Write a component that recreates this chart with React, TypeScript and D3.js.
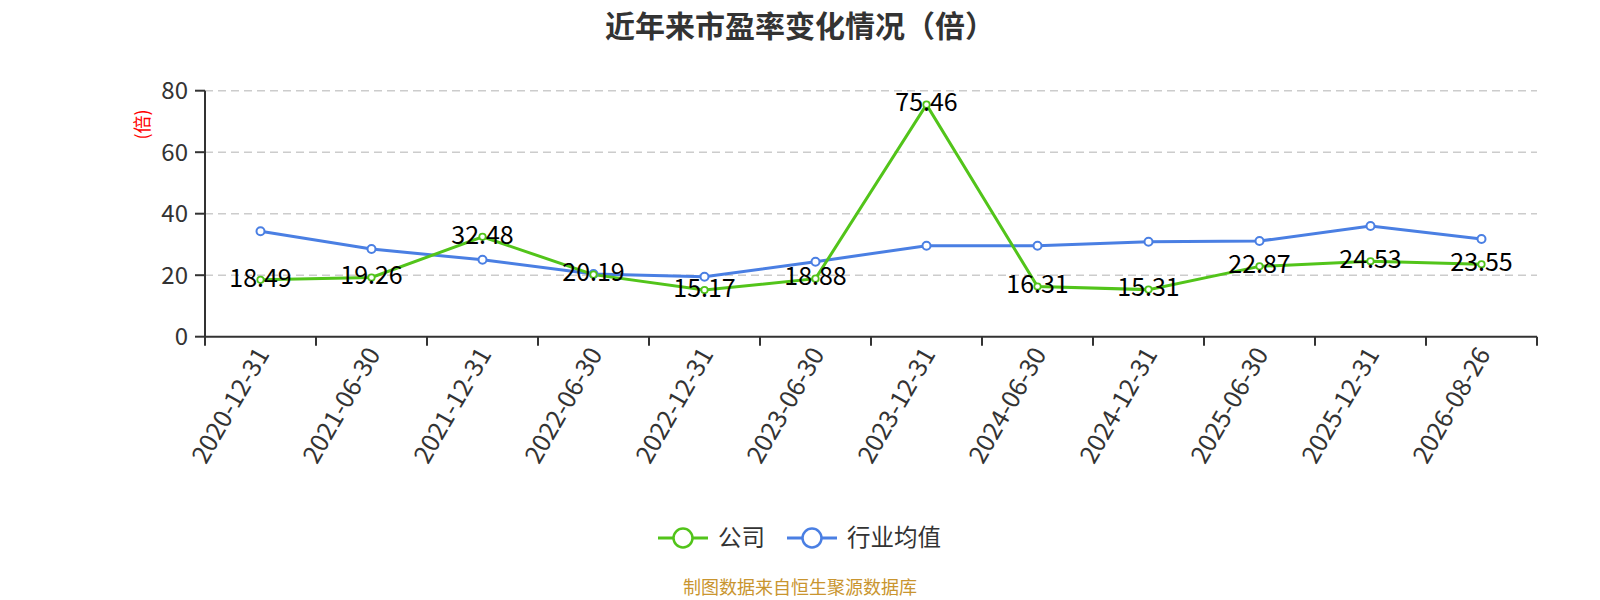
import * as d3 from 'd3';

const categories = [
  '2020-12-31', '2021-06-30', '2021-12-31', '2022-06-30', '2022-12-31', '2023-06-30',
  '2023-12-31', '2024-06-30', '2024-12-31', '2025-06-30', '2025-12-31', '2026-08-26',
];
const companyPE = [18.49, 19.26, 32.48, 20.19, 15.17, 18.88, 75.46, 16.31, 15.31, 22.87, 24.53, 23.55];
const industryPE = [34.3, 28.5, 25.0, 20.4, 19.5, 24.4, 29.6, 29.6, 30.9, 31.1, 36.0, 31.8];
const yTicks = [0, 20, 40, 60, 80];
const seriesNames = ['公司', '行业均值'];

const W = 1600;
const H = 600;
const left = 205;
const right = 1537;
const top = 90.7;
const bottom = 336.7;

const GREEN = '#52c41a';
const BLUE = '#4a7fe3';
const font = '"Noto Sans CJK SC", "Noto Sans", sans-serif';

export default function App() {
  const x = d3.scaleBand<string>().domain(categories).range([left, right]).padding(0);
  const y = d3.scaleLinear().domain([0, 80]).range([bottom, top]);
  const cx = (c: string) => (x(c) ?? 0) + x.bandwidth() / 2;

  const line = d3
    .line<number>()
    .x((_, i) => cx(categories[i]))
    .y((d) => y(d));

  const boundaries = categories.map((c) => x(c) ?? 0).concat([right]);

  return (
    <svg width={W} height={H} style={{ position: 'absolute', left: 0, top: 0, fontFamily: font }}>
      <rect width={W} height={H} fill="#fff" />
      <text x={800} y={37} textAnchor="middle" fontSize={30} fontWeight="bold" fill="#333">
        近年来市盈率变化情况（倍）
      </text>

      {/* grid */}
      {yTicks.filter((t) => t > 0).map((t) => (
        <line key={t} x1={left} x2={right} y1={y(t)} y2={y(t)} stroke="#ccc" strokeWidth={1.5} strokeDasharray="8 5" />
      ))}

      {/* y axis */}
      <line x1={left} x2={left} y1={top} y2={bottom} stroke="#333" strokeWidth={2} />
      {yTicks.map((t) => (
        <g key={t}>
          <line x1={left - 10} x2={left} y1={y(t)} y2={y(t)} stroke="#333" strokeWidth={2} />
          <text x={left - 17} y={y(t)} dy="0.35em" textAnchor="end" fontSize={24} fill="#333">
            {t}
          </text>
        </g>
      ))}
      <text
        transform={`translate(143,124.5) rotate(-90)`}
        textAnchor="middle"
        dy="0.35em"
        fontSize={18}
        fill="#f00"
      >
        (倍)
      </text>

      {/* x axis */}
      <line x1={left} x2={right} y1={bottom} y2={bottom} stroke="#333" strokeWidth={2} />
      {boundaries.map((b, i) => (
        <line key={i} x1={b} x2={b} y1={bottom} y2={bottom + 9} stroke="#333" strokeWidth={2} />
      ))}
      {categories.map((c) => (
        <text
          key={c}
          transform={`translate(${cx(c) + 2},${bottom + 13}) rotate(-60)`}
          textAnchor="end"
          dy="0.35em"
          fontSize={25}
          fill="#333"
        >
          {c}
        </text>
      ))}

      {/* series */}
      <path d={line(industryPE) ?? ''} fill="none" stroke={BLUE} strokeWidth={3} />
      <path d={line(companyPE) ?? ''} fill="none" stroke={GREEN} strokeWidth={3} />
      {industryPE.map((v, i) => (
        <circle key={i} cx={cx(categories[i])} cy={y(v)} r={4} fill="#fff" stroke={BLUE} strokeWidth={2} />
      ))}
      {companyPE.map((v, i) => (
        <circle key={i} cx={cx(categories[i])} cy={y(v)} r={3.2} fill="#fff" stroke={GREEN} strokeWidth={1.8} />
      ))}
      {companyPE.map((v, i) => (
        <text key={i} x={cx(categories[i])} y={y(v) - 2} dy="0.35em" textAnchor="middle" fontSize={25} fill="#000">
          {v.toFixed(2)}
        </text>
      ))}

      {/* legend */}
      {[
        { name: seriesNames[0], color: GREEN, x0: 658 },
        { name: seriesNames[1], color: BLUE, x0: 787 },
      ].map((l) => (
        <g key={l.name}>
          <line x1={l.x0} x2={l.x0 + 50} y1={538} y2={538} stroke={l.color} strokeWidth={3} />
          <circle cx={l.x0 + 25} cy={538} r={9.5} fill="#fff" stroke={l.color} strokeWidth={2.5} />
          <text x={l.x0 + 60} y={538} dy="0.35em" fontSize={23.5} fill="#333">
            {l.name}
          </text>
        </g>
      ))}

      <text x={800} y={588} dy="0.35em" textAnchor="middle" fontSize={18} fill="#c9952f">
        制图数据来自恒生聚源数据库
      </text>
    </svg>
  );
}
